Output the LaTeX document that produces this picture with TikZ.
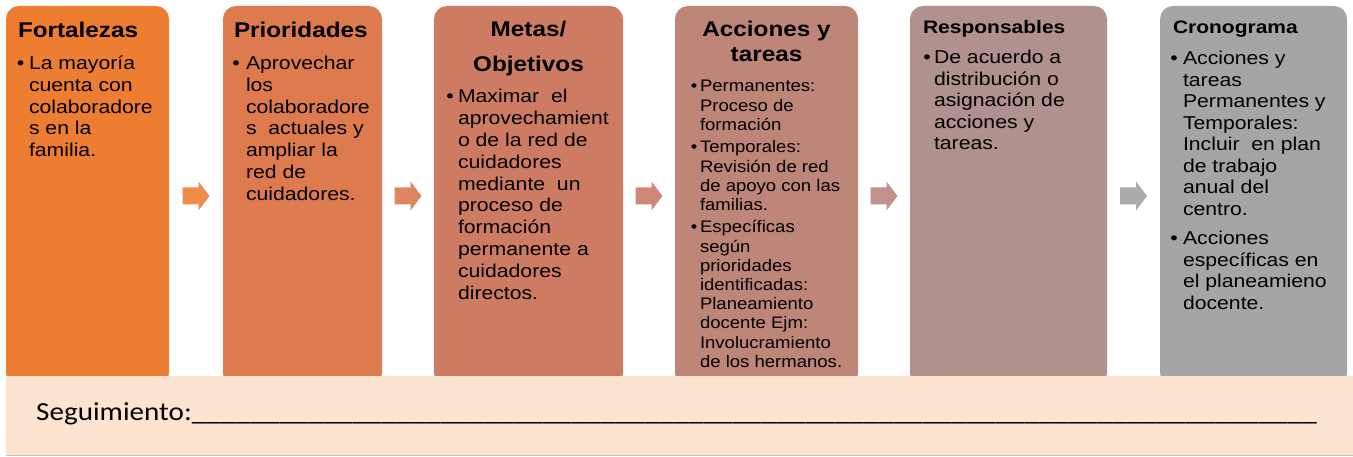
\documentclass[tikz,border=0pt]{standalone}
\usepackage{fontspec}
\usetikzlibrary{calc}
\setmainfont{Liberation Sans}
\newfontfamily\fbody[FakeStretch=1.14]{Liberation Sans}
\newfontfamily\fsmall[FakeStretch=1.11]{Liberation Sans}
\newfontfamily\ftitb[FakeStretch=1.16]{Liberation Sans}
\newfontfamily\fseg[FakeStretch=1.12]{Carlito}
\newcommand\lines[1]{\vtop{\hsize=400pt\parindent=0pt\parskip=0pt\raggedright #1\par}}
\definecolor{c1}{HTML}{ED7D31}
\definecolor{c2}{HTML}{DD7B4E}
\definecolor{c3}{HTML}{CD7C63}
\definecolor{c4}{HTML}{BE8579}
\definecolor{c5}{HTML}{B0918E}
\definecolor{c6}{HTML}{A5A5A5}
\definecolor{a1}{HTML}{F08B49}
\definecolor{a2}{HTML}{DF8560}
\definecolor{a3}{HTML}{CF8877}
\definecolor{a4}{HTML}{BF928B}
\definecolor{a5}{HTML}{ABABAB}
\definecolor{bandfill}{HTML}{FDE4D0}
\definecolor{bandline}{HTML}{C9C59A}
\tikzset{
  blockarrow/.pic={\path[pic actions] (-13.5,-8.5) -- (2.5,-8.5) -- (2.5,-14.5) -- (13.5,0) -- (2.5,14.5) -- (2.5,8.5) -- (-13.5,8.5) -- cycle;},
  box/.style={rectangle, rounded corners=13pt, anchor=north west, inner sep=0pt, outer sep=0pt, draw=none, minimum height=380pt},
  ttl/.style={inner sep=0pt, outer sep=0pt, font=\fbody\bfseries\fontsize{21.3}{25}\selectfont},
  ttlb/.style={inner sep=0pt, outer sep=0pt, anchor=base west, font=\ftitb\bfseries\fontsize{18.1}{21}\selectfont},
  bdy/.style={inner sep=0pt, outer sep=0pt, anchor=base west, font=\fbody\fontsize{18.6}{21.8}\selectfont},
  bdyb/.style={inner sep=0pt, outer sep=0pt, anchor=base west, font=\fbody\fontsize{18.6}{21.5}\selectfont},
  bdys/.style={inner sep=0pt, outer sep=0pt, anchor=base west, font=\fsmall\fontsize{16.7}{19.2}\selectfont},
  bul/.style={inner sep=0pt, outer sep=0pt, anchor=base, font=\fbody\fontsize{18.6}{21.8}\selectfont},
  buls/.style={inner sep=0pt, outer sep=0pt, anchor=base, font=\fsmall\fontsize{16.7}{19.2}\selectfont}
}
\begin{document}
\begin{tikzpicture}[x=1pt,y=-1pt]
\useasboundingbox (0,0) rectangle (1353,457);
% boxes
\node[box, fill=c1, minimum width=163pt] (b1) at (6,6) {};
\node[box, fill=c2, minimum width=159pt] (b2) at (223,6) {};
\node[box, fill=c3, minimum width=189pt] (b3) at (434,6) {};
\node[box, fill=c4, minimum width=183pt] (b4) at (675,6) {};
\node[box, fill=c5, minimum width=197pt] (b5) at (910,6) {};
\node[box, fill=c6, minimum width=187pt] (b6) at (1160,6) {};
% arrows
\pic[fill=a1] at ($(b1.east)!0.5!(b2.west)$) {blockarrow};
\pic[fill=a2] at ($(b2.east)!0.5!(b3.west)$) {blockarrow};
\pic[fill=a3] at ($(b3.east)!0.5!(b4.west)$) {blockarrow};
\pic[fill=a4] at ($(b4.east)!0.5!(b5.west)$) {blockarrow};
\pic[fill=a5] at ($(b5.east)!0.5!(b6.west)$) {blockarrow};
% box 1
\node[ttl, anchor=base west] (t1) at (18,37.5) {Fortalezas};
\node[bul] (u1) at (20.5,69.5) {•};
\node[bdy] (x1) at (29,69.5) {\lines{La mayoría\\cuenta con\\colaboradore\\s en la\\familia.}};
% box 2
\node[ttl, anchor=base west] (t2) at (234,37.5) {Prioridades};
\node[bul] (u2) at (236,69.5) {•};
\node[bdy] (x2) at (246,69.5) {\lines{Aprovechar\\los\\colaboradore\\s\ \ actuales y\\ampliar la\\red de\\cuidadores.}};
% box 3
\node[ttl, anchor=base] (t3a) at (528.5,37) {Metas/};
\node[ttl, anchor=base] (t3b) at (528.5,72) {Objetivos};
\node[bul] (u3) at (450,103) {•};
\node[bdy] (x3) at (458,103) {\lines{Maximar\ \ el\\aprovechamient\\o de la red de\\cuidadores\\mediante\ \ un\\proceso de\\formación\\permanente a\\cuidadores\\directos.}};
% box 4
\node[ttl, anchor=base] (t4a) at (766.5,37) {Acciones y};
\node[ttl, anchor=base] (t4b) at (766.5,62) {tareas};
\node[buls] (u4a) at (694,92) {•};
\node[bdys] (x4a) at (700,92) {\lines{Permanentes:\\Proceso de\\formación}};
\node[buls] (u4b) at (694,153) {•};
\node[bdys] (x4b) at (700,153) {\lines{Temporales:\\Revisión de red\\de apoyo con las\\familias.}};
\node[buls] (u4c) at (694,233) {•};
\node[bdys] (x4c) at (700,233) {\lines{Específicas\\según\\prioridades\\identificadas:\\Planeamiento\\docente Ejm:\\Involucramiento\\de los hermanos.}};
% box 5
\node[ttlb] (t5) at (923,34) {Responsables};
\node[bul] (u5) at (927,64) {•};
\node[bdyb] (x5) at (934,64) {\lines{De acuerdo a\\distribución o\\asignación de\\acciones y\\tareas.}};
% box 6
\node[ttlb] (t6) at (1173,34) {Cronograma};
\node[bul] (u6a) at (1174,65) {•};
\node[bdyb] (x6a) at (1183,65) {\lines{Acciones y\\tareas\\Permanentes y\\Temporales:\\Incluir\ \ en plan\\de trabajo\\anual del\\centro.}};
\node[bul] (u6b) at (1174,245) {•};
\node[bdyb] (x6b) at (1183,245) {\lines{Acciones\\específicas en\\el planeamieno\\docente.}};
% band
\node[rectangle, fill=bandfill, anchor=north west, inner sep=0pt, outer sep=0pt, minimum width=1347pt, minimum height=79.5pt] (band) at (6,376) {};
\draw[bandline, line width=1.5pt] (band.south west) -- (band.south east);
\node[inner sep=0pt, anchor=base west, font=\fseg\fontsize{26}{30}\selectfont] (seg) at (36,420) {Seguimiento:{\fontsize{26.2}{30}\selectfont%
\_\_\_\_\_\_\_\_\_\_%
\_\_\_\_\_\_\_\_\_\_%
\_\_\_\_\_\_\_\_\_\_%
\_\_\_\_\_\_\_\_\_\_%
\_\_\_\_\_\_\_\_\_\_%
\_\_\_\_\_\_\_\_\_\_%
\_\_\_\_\_\_\_\_\_\_%
\_\_\_\_\_\_\_}};
\end{tikzpicture}
\end{document}
